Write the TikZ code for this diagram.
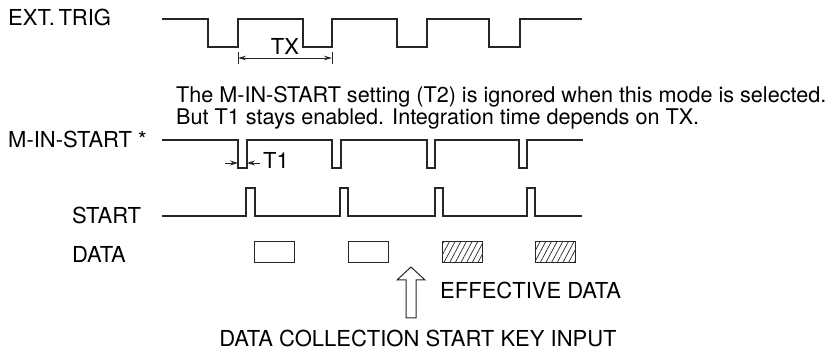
\documentclass[tikz,border=0pt]{standalone}
\usepackage{fontspec}
\setmainfont{TeX Gyre Heros}
\usetikzlibrary{arrows.meta,patterns.meta}
\begin{document}
\begin{tikzpicture}[x=1pt,y=-1pt,
  wave/.style={line width=1.2pt,color=black!85,line join=miter},
  lbl/.style={inner sep=0pt,anchor=base west,font=\fontsize{22}{26}\selectfont},
  note/.style={inner sep=0pt,anchor=base west,font=\fontsize{21.6}{26}\selectfont},
  dim/.style={line width=0.9pt,color=black!85},
  tip/.style={-{Stealth[length=8pt,width=5pt]}},
  databox/.style={line width=1pt,draw=black!85},
  hatch/.style={databox,pattern={Lines[angle=62,distance=5pt,line width=0.7pt]},pattern color=black!85}]
\useasboundingbox (0,0) rectangle (835,352);
% labels
\node[lbl] (lext) at (8,26) {EXT.\,TRIG};
\node[lbl] (lmin) at (8,148) {M-IN-START *};
\node[lbl] (lstart) at (72,224) {START};
\node[lbl] (ldata) at (72,263) {DATA};
\node[note] (note1) at (176,103) {The M-IN-START setting (T2) is ignored when this mode is selected.};
\node[note] (note2) at (176,125) {But T1 stays enabled. Integration time depends on TX.};
% EXT TRIG
\draw[wave] (162,19) -- (208,19) -- (208,47) -- (238,47) -- (238,19) -- (303,19) -- (303,47)
  -- (332,47) -- (332,19) -- (397,19) -- (397,47) -- (427,47) -- (427,19) -- (489,19)
  -- (489,47) -- (520,47) -- (520,19) -- (582,19);
% TX dimension
\coordinate (txa) at (238,58);
\coordinate (txb) at (332,58);
\draw[dim] (238,52) -- (238,64);
\draw[dim] (332,52) -- (332,64);
\draw[dim,{Stealth[length=8pt,width=4.5pt]}-{Stealth[length=8pt,width=4.5pt]}] (txa) -- (txb);
\node[inner sep=0pt,anchor=base,font=\fontsize{22}{26}\selectfont] (tx) at (285,55) {TX};
% M-IN-START
\draw[wave] (162,140) -- (238,140) -- (238,168) -- (247,168) -- (247,140) -- (332,140)
  -- (332,168) -- (341,168) -- (341,140) -- (427,140) -- (427,168) -- (435,168) -- (435,140)
  -- (519,140) -- (519,168) -- (527,168) -- (527,140) -- (583,140);
% T1
\coordinate (t1a) at (225,163);
\coordinate (t1b) at (238,163);
\coordinate (t1c) at (260,163);
\coordinate (t1d) at (247,163);
\draw[dim,tip] (t1a) -- (t1b);
\draw[dim,tip] (t1c) -- (t1d);
\node[lbl] (t1) at (263,169) {T1};
% START
\draw[wave] (162,216) -- (246,216) -- (246,188) -- (255,188) -- (255,216) -- (340,216)
  -- (340,188) -- (348,188) -- (348,216) -- (435,216) -- (435,188) -- (443,188) -- (443,216)
  -- (527,216) -- (527,188) -- (535,188) -- (535,216) -- (582,216);
% DATA boxes
\draw[databox] (254,242) rectangle (294,263);
\draw[databox] (348,242) rectangle (388,263);
\draw[hatch] (442,242) rectangle (482,263);
\draw[hatch] (535,242) rectangle (575,263);
% hollow arrow
\draw[line width=1pt,color=black!85,line join=miter] (406,318) -- (406,280) -- (397,280) -- (411,267)
  -- (425,280) -- (416,280) -- (416,318) -- cycle;
\node[lbl] (eff) at (440,299) {EFFECTIVE DATA};
\node[inner sep=0pt,anchor=base,font=\fontsize{22}{26}\selectfont] (key) at (418,347) {DATA COLLECTION START KEY INPUT};
\end{tikzpicture}
\end{document}
